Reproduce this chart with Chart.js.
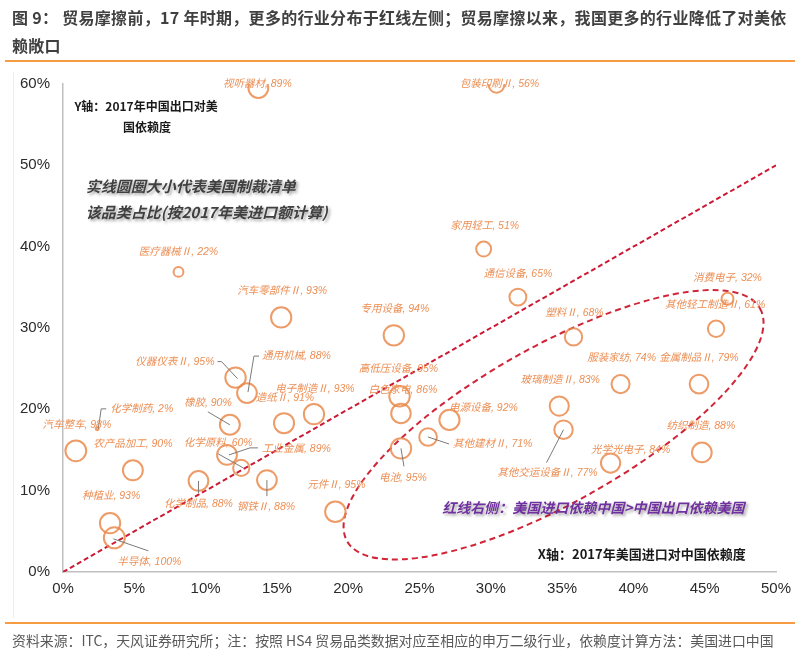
<!DOCTYPE html>
<html><head><meta charset="utf-8">
<script src="https://cdn.jsdelivr.net/npm/chart.js@4.4.1/dist/chart.umd.min.js"></script>
<style>
html,body{margin:0;padding:0;background:#fff;}
#wrap{position:relative;width:801px;height:653px;overflow:hidden;background:#fff;}
canvas{position:absolute;left:0;top:0;}
#title{position:absolute;left:12px;top:3px;font-family:"Noto Sans CJK SC";font-weight:bold;font-size:16px;letter-spacing:0.3px;color:#404040;line-height:28px;white-space:nowrap;z-index:2;}
.rule{position:absolute;left:5px;width:790px;height:2px;background:#F59B42;z-index:2;}
#frame{position:absolute;left:13px;top:72px;width:1px;height:546px;background:#ececec;z-index:1;}
#foot{position:absolute;left:12px;top:630px;font-family:"Noto Sans CJK SC";font-size:13.9px;color:#595959;white-space:nowrap;z-index:2;}
</style></head>
<body>
<div id="wrap">
<canvas id="c" width="801" height="653"></canvas>
<div id="title">图 9：&nbsp;贸易摩擦前，17 年时期，更多的行业分布于红线左侧；贸易摩擦以来，我国更多的行业降低了对美依<br>赖敞口</div>
<div class="rule" style="top:60px"></div>
<div id="frame"></div>
<div class="rule" style="top:622px"></div>
<div id="foot">资料来源：ITC，天风证券研究所；注：按照 HS4 贸易品类数据对应至相应的申万二级行业，依赖度计算方法：美国进口中国</div>
</div>
<script>
// ---- data ----
const categories = ['视听器材','包装印刷Ⅱ','家用轻工','通信设备','医疗器械Ⅱ','汽车零部件Ⅱ','专用设备','塑料Ⅱ','消费电子','其他轻工制造Ⅱ','服装家纺','金属制品Ⅱ','玻璃制造Ⅱ','其他交运设备Ⅱ','电源设备','其他建材Ⅱ','电池','高低压设备','白色家电','电子制造Ⅱ','造纸Ⅱ','仪器仪表Ⅱ','通用机械','橡胶','化学原料','工业金属','化学制品','钢铁Ⅱ','元件Ⅱ','汽车整车','化学制药','农产品加工','种植业','半导体','光学光电子','纺织制造'];
// X: 2017 US import reliance on China (%)
const usImportReliance = [13.7,30.4,29.5,31.9,8.1,15.3,23.2,35.8,46.6,45.8,39.1,44.6,34.8,35.1,27.1,25.6,23.7,23.6,23.7,17.6,15.5,12.1,12.9,11.7,12.5,11.5,9.5,14.3,19.1,0.9,2.4,4.9,3.3,3.6,38.4,44.8];
// Y: 2017 China export reliance on US (%)
const cnExportReliance = [59.5,59.9,39.7,33.8,36.9,31.3,29.1,28.9,33.6,29.9,23.1,23.1,20.4,17.5,18.7,16.6,15.2,21.6,19.5,19.4,18.3,23.9,22.0,18.1,12.8,14.4,11.2,11.3,7.4,14.9,17.6,12.5,6.0,4.2,13.4,14.7];
// share of category on US sanction list (%)
const sanctionShare = [89,56,51,65,22,93,94,68,32,61,74,79,83,77,92,71,95,95,86,93,91,95,88,90,60,89,88,88,95,98,2,90,93,100,84,88];
const xTicks = [0,5,10,15,20,25,30,35,40,45,50];
const yTicks = [0,10,20,30,40,50,60];
const diagonal = [0,50];

// ---- layout / style (not data) ----
const LABEL_LAYOUT = [
 [-1,-4,'center'],[3,-1,'center'],[1,-23,'center'],[0,-23,'center'],[0,-20,'center'],
 [1,-26,'center'],[1,-26,'center'],[1,-24,'center'],[0,-21,'center'],[-1,-24,'center'],
 [1,-26,'center'],[0,-26,'center'],[1,-26,'center'],
 [-16,43,'center',[[-17,33],[0,0]]],
 [34,-12,'center'],
 [25,7,'left',[[0,0],[21,7]]],
 [2,30,'center',[[0,0],[3,18]]],
 [-1,-27,'center'],[2,-23,'center'],[1,-25,'center'],[1,-25,'center'],
 [-21,-16,'right',[[-18,-16],[-14,-16],[2,1]]],
 [15,-37,'left',[[12,-37],[7,-37],[1,-1]]],
 [-22,-22,'center',[[-22,-13],[0,0]]],
 [-23,-25,'center',[[-23,-14],[2,0]]],
 [35,-6,'left',[[31,-7],[23,-7],[2,0]]],
 [0,23,'center',[[0,12],[0,0]]],
 [-1,27,'center',[[0,16],[0,0]]],
 [1,-27,'center'],[1,-26,'center'],
 [13,-20,'left',[[9,-20],[4,-20],[1,0]]],
 [0,-26,'center'],[1,-27,'center'],
 [35,24,'center',[[-1,1],[34,13]]],
 [20,-13,'center'],[-1,-26,'center']
];
const ELLIPSE = {cx:34.4, cy:18.1, a:237, b:78, rot:-29.4*Math.PI/180};
const ANNOTS = [
 {t:'Y轴：2017年中国出口对美', x:0.8, y:57.2, font:'bold 12px "Noto Sans CJK SC"', color:'#1a1a1a'},
 {t:'国依赖度', x:4.2, y:54.6, font:'bold 12px "Noto Sans CJK SC"', color:'#1a1a1a'},
 {t:'实线圆圈大小代表美国制裁清单', x:1.6, y:47.4, font:'italic bold 15px "Noto Sans CJK SC"', color:'#404040', shadow:true},
 {t:'该品类占比(按2017年美进口额计算)', x:1.6, y:44.2, font:'italic bold 15px "Noto Sans CJK SC"', color:'#404040', shadow:true},
 {t:'红线右侧：美国进口依赖中国>中国出口依赖美国', x:26.6, y:7.9, font:'italic bold 14px "Noto Sans CJK SC"', color:'#7030A0', shadow:true},
 {t:'X轴：2017年美国进口对中国依赖度', x:33.3, y:2.2, font:'bold 13px "Noto Sans CJK SC"', color:'#1a1a1a'}
];
const RADIUS_K = 10.5;

const points = categories.map((c,i)=>({x:usImportReliance[i], y:cnExportReliance[i]}));

const annotPlugin = {
  id:'annot',
  beforeDatasetsDraw(chart){
    const ctx=chart.ctx, xs=chart.scales.x, ys=chart.scales.y;
    ctx.save();
    ctx.strokeStyle='#D02437'; ctx.lineWidth=2; ctx.setLineDash([6,4]);
    ctx.beginPath();
    ctx.ellipse(xs.getPixelForValue(ELLIPSE.cx), ys.getPixelForValue(ELLIPSE.cy), ELLIPSE.a, ELLIPSE.b, ELLIPSE.rot, 0, Math.PI*2);
    ctx.stroke();
    ctx.restore();
  },
  afterDatasetsDraw(chart){
    const ctx=chart.ctx, xs=chart.scales.x, ys=chart.scales.y;
    const meta=chart.getDatasetMeta(0);
    ctx.save();
    ctx.strokeStyle='#7a7a7a'; ctx.lineWidth=1;
    meta.data.forEach((el,i)=>{
      const L=LABEL_LAYOUT[i];
      if(L[3]){
        ctx.beginPath();
        L[3].forEach((p,k)=>{ const px=el.x+p[0], py=el.y+p[1]; k?ctx.lineTo(px,py):ctx.moveTo(px,py); });
        ctx.stroke();
      }
    });
    ctx.font='italic 10.5px "Liberation Sans","Noto Sans CJK SC"';
    ctx.fillStyle='#EC8F55';
    ctx.textBaseline='middle';
    meta.data.forEach((el,i)=>{
      const L=LABEL_LAYOUT[i];
      ctx.textAlign=L[2];
      ctx.fillText(categories[i]+', '+sanctionShare[i]+'%', el.x+L[0], el.y+L[1]);
    });
    ctx.textAlign='left';
    ANNOTS.forEach(a=>{
      ctx.save();
      ctx.font=a.font; ctx.fillStyle=a.color;
      if(a.shadow){ ctx.shadowColor='rgba(0,0,0,0.35)'; ctx.shadowBlur=3; ctx.shadowOffsetX=2; ctx.shadowOffsetY=2; }
      ctx.fillText(a.t, xs.getPixelForValue(a.x), ys.getPixelForValue(a.y));
      ctx.restore();
    });
    ctx.restore();
  }
};

new Chart(document.getElementById('c'), {
  type:'bubble',
  data:{datasets:[
    {type:'bubble', data:points, borderColor:'rgba(234,138,76,0.85)', borderWidth:2, backgroundColor:'rgba(255,255,255,0)',
     radius:(c)=>RADIUS_K*Math.sqrt(sanctionShare[c.dataIndex]/100), order:1},
    {type:'line', data:diagonal.map(v=>({x:v,y:v})), borderColor:'#CC1A36', borderWidth:2, borderDash:[5,3],
     pointRadius:0, fill:false, order:2}
  ]},
  options:{
    responsive:false, animation:false, events:[], devicePixelRatio:1,
    layout:{padding:{top:84,right:25,bottom:51,left:0}},
    plugins:{legend:{display:false}, tooltip:{enabled:false}},
    scales:{
      x:{type:'linear', min:xTicks[0], max:xTicks[xTicks.length-1],
         afterBuildTicks:(s)=>{s.ticks=xTicks.map(v=>({value:v}));},
         afterFit:(s)=>{s.height=30;},
         grid:{display:false, drawTicks:false, tickLength:0},
         border:{display:true, color:'#BFBFBF', width:1.5},
         ticks:{padding:8, color:'#2b2b2b', font:{family:'"Liberation Sans"', size:15}, callback:(v)=>v+'%', maxRotation:0, autoSkip:false}},
      y:{type:'linear', min:yTicks[0], max:yTicks[yTicks.length-1],
         afterBuildTicks:(s)=>{s.ticks=yTicks.map(v=>({value:v}));},
         afterFit:(s)=>{s.width=63;},
         grid:{display:false, drawTicks:false, tickLength:0},
         border:{display:true, color:'#BFBFBF', width:1.5},
         ticks:{padding:13, color:'#2b2b2b', font:{family:'"Liberation Sans"', size:15}, callback:(v)=>v+'%', autoSkip:false}}
    }
  },
  plugins:[annotPlugin]
});
</script>
</body></html>
